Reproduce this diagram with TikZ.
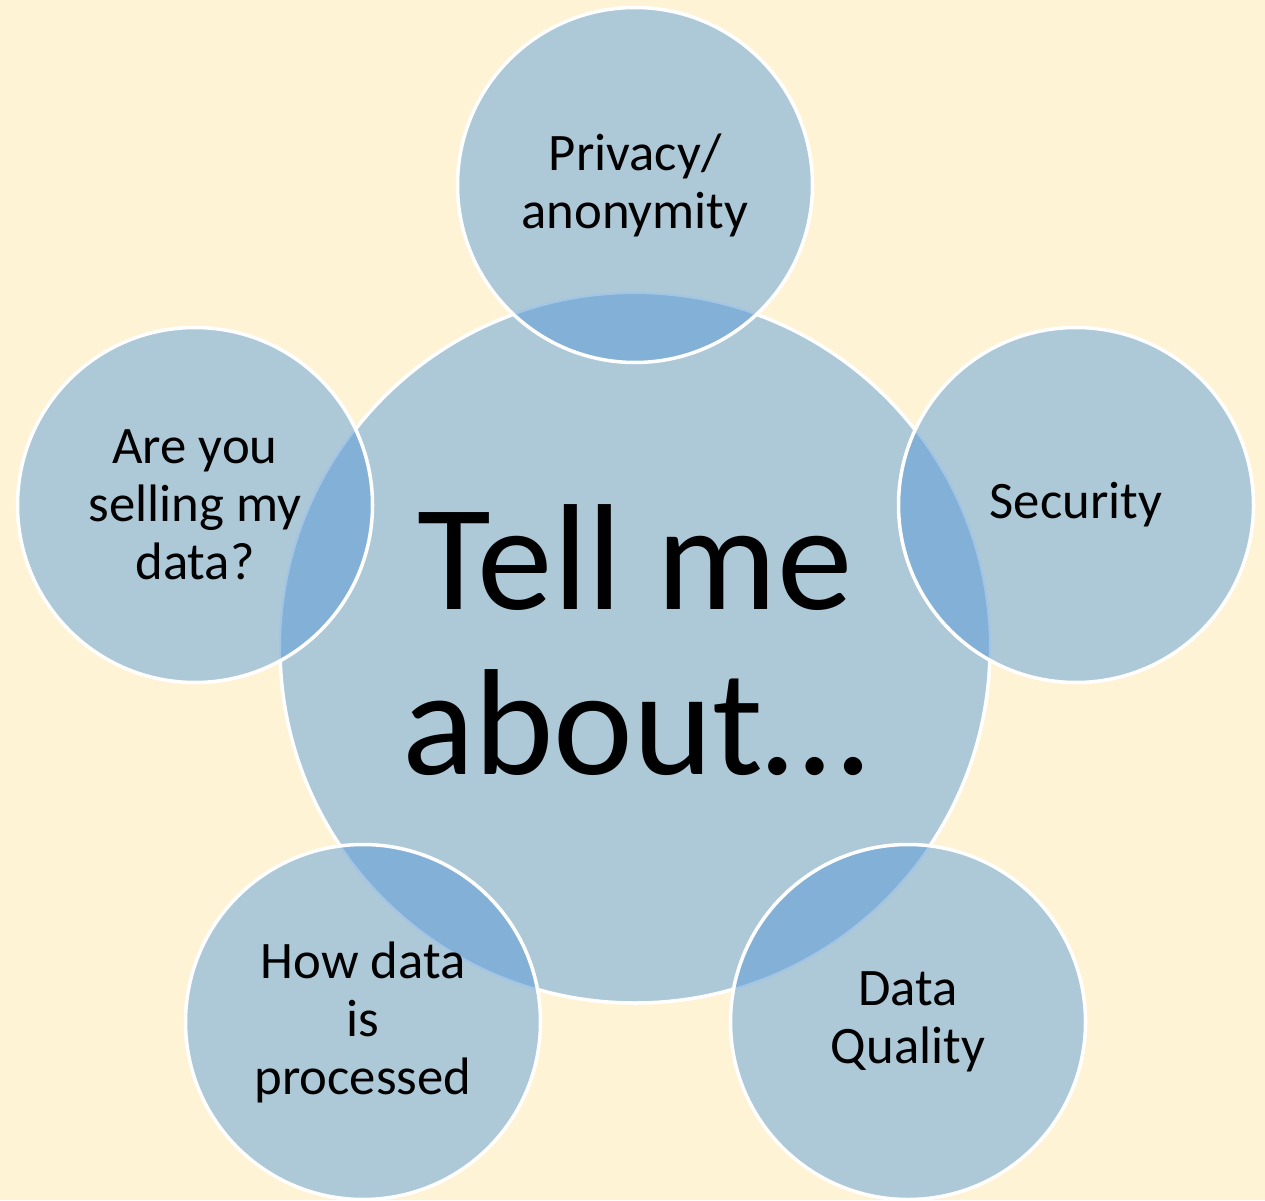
\documentclass[tikz,border=0pt]{standalone}
\usepackage{fontspec}
\setmainfont{Carlito}
\definecolor{bgc}{HTML}{FFF3D6}
\definecolor{circ}{HTML}{ADC8D7}
\definecolor{lens}{HTML}{83B0D6}
\definecolor{lensedge}{HTML}{A2C5E6}
\begin{document}
\begin{tikzpicture}[
  smalltxt/.style={align=center, font=\fontsize{15}{16.5}\selectfont, text=black},
  bigtxt/.style={align=center, font=\fontsize{43}{47}\selectfont, text=black},
  rim/.style={draw=white, line width=1pt}
]
\fill[bgc] (0,0) rectangle (12.65,12);
\useasboundingbox (0,0) rectangle (12.65,12);
\coordinate (cC) at (6.35,5.52);
\coordinate (cT) at (6.35,10.15);
\coordinate (cR) at (10.76,6.95);
\coordinate (cL) at (1.95,6.95);
\coordinate (cBL) at (3.63,1.78);
\coordinate (cBR) at (9.08,1.78);
\def\rc{3.55}
\def\ro{1.775}
% central circle
\fill[circ] (cC) circle (\rc);
\draw[rim] (cC) circle (\rc);
% outer circles with lenses
\foreach \c in {cT,cR,cL,cBL,cBR}{
  \fill[circ] (\c) circle (\ro);
  \begin{scope}
    \clip (\c) circle (\ro);
    \fill[lens] (cC) circle (\rc);
    \draw[lensedge, line width=0.6pt] (cC) circle (\rc);
  \end{scope}
  \draw[rim] (\c) circle (\ro);
}
% texts
\node[bigtxt] (tC) at ([yshift=0.08cm]cC) {Tell me\\about…};
\node[smalltxt] (tT) at (cT) {Privacy/\\anonymity};
\node[smalltxt] (tR) at (cR) {Security};
\node[smalltxt] (tL) at (cL) {Are you\\selling my\\data?};
\node[smalltxt] (tBL) at (cBL) {How data\\is\\processed};
\node[smalltxt] (tBR) at (cBR) {Data\\Quality};
\end{tikzpicture}
\end{document}
